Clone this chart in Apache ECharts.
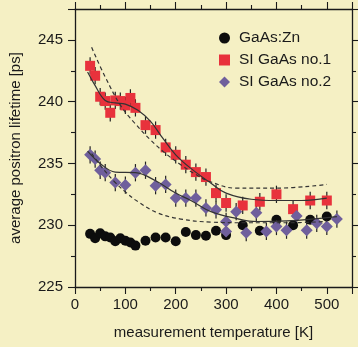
<!DOCTYPE html>
<html>
<head>
<meta charset="utf-8">
<script src="https://cdn.jsdelivr.net/npm/echarts@6/dist/echarts.min.js"></script>
<style>
  html, body { margin: 0; padding: 0; background: #f5f0c4; }
  #chart { width: 358px; height: 347px; }
</style>
</head>
<body>
<div id="chart"></div>
<script>
// GaAs:Zn
var znT = [30, 40, 50, 60, 70, 80, 90, 100, 110, 120, 140, 160, 180, 200, 220, 240, 260, 280, 300, 333, 367, 400, 433, 467, 500];
var znV = [229.3, 228.95, 229.35, 229.1, 229.0, 228.7, 228.95, 228.75, 228.6, 228.35, 228.75, 229.0, 229.0, 228.7, 229.45, 229.2, 229.15, 229.55, 229.2, 230.0, 229.55, 230.45, 230.0, 230.45, 230.7];
// SI GaAs no.1
var si1T = [30, 40, 50, 60, 70, 80, 90, 100, 110, 120, 140, 160, 180, 200, 220, 240, 260, 280, 300, 333, 367, 400, 433, 467, 500];
var si1V = [242.9, 242.1, 240.4, 240.05, 239.1, 240.1, 240.05, 239.7, 240.3, 239.5, 238.1, 237.7, 236.3, 235.7, 234.9, 234.3, 233.9, 232.6, 231.8, 231.6, 231.9, 232.5, 231.3, 232.0, 232.0];
var si1Err = 0.7;
// SI GaAs no.2
var si2T = [30, 40, 50, 60, 80, 100, 120, 140, 160, 180, 200, 220, 240, 260, 280, 300, 300, 320, 340, 360, 380, 400, 420, 440, 460, 480, 500, 520];
var si2V = [235.7, 235.35, 234.45, 234.25, 233.45, 233.25, 234.25, 234.45, 233.2, 233.3, 232.2, 232.2, 232.2, 231.4, 231.25, 230.3, 229.5, 231.1, 229.4, 231.0, 229.5, 229.9, 229.6, 230.75, 229.6, 230.15, 229.9, 230.5];
var si2Err = 0.7;

// fit curves
var fit1 = [[25, 242.4], [40, 241.3], [60, 240.1], [80, 239.9], [100, 239.8], [125, 239.3], [150, 238.4], [175, 237.0], [200, 235.7], [230, 234.6], [270, 233.4], [300, 232.6], [350, 232.1], [400, 232.0], [450, 232.0], [500, 232.2]];
var fit2 = [[25, 236.0], [50, 235.0], [80, 234.3], [120, 234.25], [160, 233.6], [200, 232.6], [230, 232.0], [270, 231.1], [320, 230.55], [360, 230.3], [420, 230.35], [520, 230.7]];
var dashUp = [[33, 244.4], [60, 242.0], [92, 239.6], [120, 238.2], [150, 236.9], [180, 235.8], [210, 234.9], [240, 234.1], [270, 233.5], [320, 233.0], [400, 233.0], [500, 233.3]];
var dashLow = [[33, 235.8], [55, 234.6], [79, 233.5], [100, 232.7], [125, 231.9], [164, 231.0], [210, 230.5], [270, 230.25], [340, 230.2], [420, 230.2], [500, 230.3]];

var yTicks = [225, 230, 235, 240, 245];
var xTicks = [0, 100, 200, 300, 400, 500];

function pairs(t, v) {
  return t.map(function (x, i) { return [x, v[i]]; });
}
function errData(t, v, e) {
  return t.map(function (x, i) { return [x, v[i], e]; });
}

var font = 'Liberation Sans, Arial, sans-serif';
var ink = '#1a1a1a';

var myChart = echarts.init(document.getElementById('chart'));

function errSeries(data) {
  return {
    type: 'custom',
    data: data,
    z: 1,
    silent: true,
    encode: { x: 0, y: 1 },
    renderItem: function (params, api) {
      var p1 = api.coord([api.value(0), api.value(1) + api.value(2)]);
      var p2 = api.coord([api.value(0), api.value(1) - api.value(2)]);
      return {
        type: 'line',
        shape: { x1: p1[0], y1: p1[1], x2: p2[0], y2: p2[1] },
        style: { stroke: '#222', lineWidth: 1.2 }
      };
    }
  };
}

function lineSeries(data, dashed) {
  return {
    type: 'line',
    data: data,
    smooth: 0.4,
    symbol: 'none',
    z: 5,
    silent: true,
    lineStyle: { color: '#333', width: 1.2, type: dashed ? [4, 3] : 'solid' }
  };
}

var axisCommon = {
  axisLine: { show: true, onZero: false, lineStyle: { color: ink, width: 1.3 } },
  splitLine: { show: false },
  minorTick: { show: true, splitNumber: 2, length: 4, lineStyle: { color: ink, width: 1.1 } },
  axisTick: { show: true, inside: false, length: 7, lineStyle: { color: ink, width: 1.1 } }
};

var option = {
  backgroundColor: '#f5f0c4',
  animation: false,
  grid: { left: 73, right: 6, top: 9, bottom: 60 },
  legend: {
    orient: 'vertical',
    left: 214,
    top: 25,
    itemWidth: 11,
    itemHeight: 11,
    itemGap: 6,
    textStyle: { fontFamily: font, fontSize: 15.5, color: ink, padding: [0, 0, 0, 4] },
    data: [
      { name: 'GaAs:Zn', icon: 'circle' },
      { name: 'SI GaAs no.1', icon: 'rect' },
      { name: 'SI GaAs no.2', icon: 'diamond' }
    ]
  },
  xAxis: [
    Object.assign({}, axisCommon, {
      type: 'value', min: 0, max: 550, interval: 100, position: 'bottom',
      name: 'measurement temperature [K]', nameLocation: 'middle', nameGap: 38,
      nameTextStyle: { fontFamily: font, fontSize: 15, color: ink },
      axisLabel: {
        fontFamily: font, fontSize: 15, color: ink, margin: 10,
        formatter: function (v) { return xTicks.indexOf(v) >= 0 ? String(v) : ''; }
      }
    }),
    Object.assign({}, axisCommon, {
      type: 'value', min: 0, max: 550, interval: 100, position: 'top',
      axisLabel: { show: false }
    })
  ],
  yAxis: [
    Object.assign({}, axisCommon, {
      type: 'value', min: 225, max: 247.5, interval: 5, position: 'left',
      name: 'average positron lifetime [ps]', nameLocation: 'middle', nameGap: 52,
      nameTextStyle: { fontFamily: font, fontSize: 15, color: ink },
      axisLabel: {
        fontFamily: font, fontSize: 15, color: ink, margin: 12,
        formatter: function (v) { return yTicks.indexOf(v) >= 0 ? String(v) : ''; }
      }
    }),
    Object.assign({}, axisCommon, {
      type: 'value', min: 225, max: 247.5, interval: 5, position: 'right',
      axisLabel: { show: false }
    })
  ],
  series: [
    errSeries(errData(si1T, si1V, si1Err)),
    errSeries(errData(si2T, si2V, si2Err)),
    {
      name: 'GaAs:Zn', type: 'scatter', data: pairs(znT, znV), z: 2,
      symbol: 'circle', symbolSize: 10,
      itemStyle: { color: '#0d0d0d', opacity: 1 }
    },
    {
      name: 'SI GaAs no.1', type: 'scatter', data: pairs(si1T, si1V), z: 3,
      symbol: 'rect', symbolSize: 10,
      itemStyle: { color: '#e8323c', opacity: 1 }
    },
    {
      name: 'SI GaAs no.2', type: 'scatter', data: pairs(si2T, si2V), z: 4,
      symbol: 'diamond', symbolSize: [12, 12],
      itemStyle: { color: '#6f5f9c', opacity: 1 }
    },
    lineSeries(fit1, false),
    lineSeries(fit2, false),
    lineSeries(dashUp, true),
    lineSeries(dashLow, true)
  ]
};

myChart.setOption(option);
</script>
</body>
</html>
